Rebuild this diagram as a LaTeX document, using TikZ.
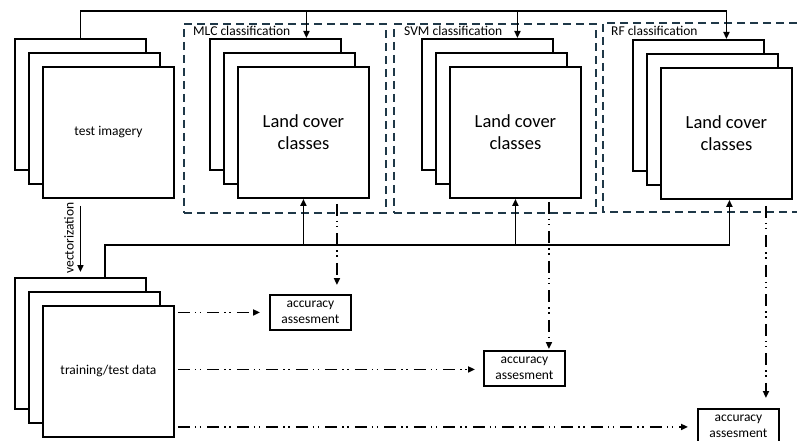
\documentclass[tikz,border=0pt]{standalone}
\usepackage{fontspec}
\setmainfont{Carlito}
\usetikzlibrary{arrows.meta,calc}
\definecolor{framecol}{RGB}{31,56,72}
\begin{document}
\begin{tikzpicture}[x=1pt,y=-1pt,
  sq/.style={draw,line width=1.9pt,fill=white,minimum width=131pt,minimum height=131pt,inner sep=0pt,anchor=north west,align=center},
  small/.style={font=\fontsize{13.5}{16}\selectfont},
  big/.style={font=\fontsize{18.5}{22}\selectfont},
  frame/.style={draw=framecol,line width=1.6pt,dash pattern=on 8pt off 5pt},
  conn/.style={line width=1.9pt},
  arr/.style={conn,-{Triangle[length=7pt,width=6pt]}},
  dd/.style={line width=1.9pt,dash pattern=on 12pt off 5pt on 1.5pt off 3.5pt on 1.5pt off 6pt,-{Triangle[length=7pt,width=6pt]}},
  acc/.style={draw,line width=1.9pt,minimum width=81pt,minimum height=35pt,inner sep=0pt,align=center,small,anchor=north west}]
\useasboundingbox (0,0) rectangle (797,441);

% classification frames
\node[frame,minimum width=202pt,minimum height=189pt,inner sep=0pt,anchor=north west] (mlcbox) at (183,23) {};
\node[frame,minimum width=202pt,minimum height=189pt,inner sep=0pt,anchor=north west] (svmbox) at (393,23) {};
\coordinate (rfnw) at (603,23);
\coordinate (rfsw) at (603,212);
\draw[frame] (797,23) -- (rfnw) -- (rfsw) -- (797,212);
\node[small,anchor=west,inner sep=0pt] (mlclab) at ($(mlcbox.north west)+(10,8)$) {MLC classification};
\node[small,anchor=west,inner sep=0pt] (svmlab) at ($(svmbox.north west)+(11,8)$) {SVM classification};
\node[small,anchor=west,inner sep=0pt] (rflab) at ($(rfnw)+(8,8)$) {RF classification};

% test imagery stack
\node[sq] (tib) at (14,38) {};
\node[sq] (tim) at (28,52) {};
\node[sq,small] (tif) at (42,66) {test imagery};

% training stack
\node[sq] (trb) at (14,277) {};
\node[sq] (trm) at (28,291) {};
\node[sq,small] (trf) at (42,305) {training/test data};

% MLC stack
\node[sq] (mlcb) at (209,38) {};
\node[sq] (mlcm) at (223,52) {};
\node[sq,big] (mlcf) at (237,66) {Land cover\\classes};

% SVM stack
\node[sq] (svmb) at (421,38) {};
\node[sq] (svmm) at (435,52) {};
\node[sq,big] (svmf) at (449,66) {Land cover\\classes};

% RF stack
\node[sq] (rfb) at (632,39) {};
\node[sq] (rfm) at (646,53) {};
\node[sq,big] (rff) at (660,67) {Land cover\\classes};

% accuracy boxes
\node[acc] (acc1) at (269,294) {accuracy\\assesment};
\node[acc] (acc2) at (483,350) {accuracy\\assesment};
\node[acc,minimum height=34pt] (acc3) at (697,408) {accuracy\\assesment};

% top distribution line
\coordinate (topy) at (0,11);
\draw[arr] (tib.north) |- (rff.north |- topy) -- (rff.north |- rfb.north);
\draw[arr] ($(mlcf.north |- topy)+(3,0)$) -- ($(mlcf.north |- mlcb.north)+(3,0)$);
\draw[arr] ($(svmf.north |- topy)+(2,0)$) -- ($(svmf.north |- svmb.north)+(2,0)$);

% vectorization
\coordinate (v1) at ($(tib.center |- tif.south)+(0,7)$);
\draw[arr] (v1) -- ($(trb.north)+(0,-5)$);
\node[small,rotate=90,anchor=south,inner sep=1pt] (veclab) at (75,238) {vectorization};

% training data distribution line
\coordinate (midy) at (0,245);
\coordinate (v0) at ($(trb.north)+(24.5,0)$);
\draw[arr] (v0) |- ($(rff.south |- midy)+(3,0)$) -- ($(rff.south)+(3,0)$);
\draw[arr] (mlcf.south |- midy) -- (mlcf.south);
\draw[arr] (svmf.south |- midy) -- (svmf.south);

% results to accuracy assessment
\coordinate (m1) at ($(mlcf.south)+(33.5,5)$);
\draw[dd,shorten >=9pt] (m1) -- (m1 |- acc1.north);
\coordinate (s1) at ($(svmf.south)+(33.5,3)$);
\draw[dd,shorten >=1pt] (s1) -- (s1 |- acc2.north);
\coordinate (r1) at ($(rff.south)+(39.5,6)$);
\draw[dd,shorten >=10pt] (r1) -- (r1 |- acc3.north);

% reference data to accuracy assessment
\draw[dd,shorten >=9pt] ($(trf.east |- acc1.west)+(3,0)$) -- (acc1.west);
\draw[dd,shorten >=8pt] ($(trf.east |- acc2.west)+(3,1)$) -- ($(acc2.west)+(0,1)$);
\draw[dd,shorten >=9pt] ($(trf.east |- acc3.west)+(3,1)$) -- ($(acc3.west)+(0,1)$);
\end{tikzpicture}
\end{document}
